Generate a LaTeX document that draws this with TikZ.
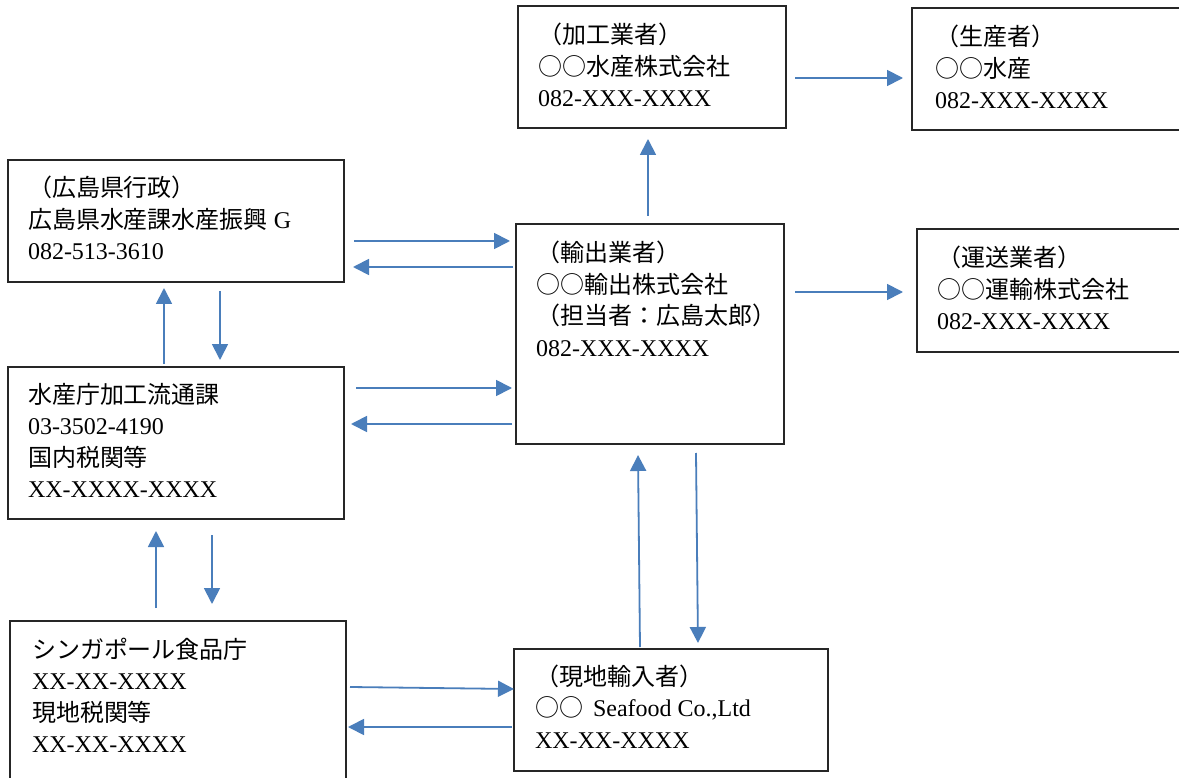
\documentclass[tikz,border=0pt]{standalone}
\usepackage{fontspec}
\setmainfont{Liberation Serif}
\newfontfamily\jp{Noto Sans CJK JP}
\usetikzlibrary{arrows.meta}
\definecolor{arrowblue}{RGB}{74,126,187}
\newcommand{\J}[1]{{\jp #1}}
\newcommand{\boxtext}[1]{\parbox[t]{330pt}{\fontsize{24}{31.5}\selectfont #1}}
\tikzset{
  boxnode/.style={draw=black!85, line width=1.3pt, inner sep=0pt, outer sep=0pt, anchor=north west},
  txt/.style={anchor=base west, inner sep=0pt, outer sep=0pt},
  arr/.style={draw=arrowblue, line width=1.8pt, -{Triangle[length=16pt,width=16pt]}}
}
\begin{document}
\begin{tikzpicture}[x=1pt,y=-1pt]
\useasboundingbox (0,0) rectangle (1179,778);
\clip (0,0) rectangle (1179,778);
\fill[white] (0,0) rectangle (1179,778);
% boxes
\node[boxnode, minimum width=268pt, minimum height=122pt] (proc) at (518,6) {};
\node[boxnode, minimum width=275pt, minimum height=122pt] (prod) at (912,8) {};
\node[boxnode, minimum width=336pt, minimum height=122pt] (pref) at (8,160) {};
\node[boxnode, minimum width=268pt, minimum height=220pt] (exp) at (516,224) {};
\node[boxnode, minimum width=270pt, minimum height=123pt] (trans) at (917,229) {};
\node[boxnode, minimum width=336pt, minimum height=152pt] (fa) at (8,367) {};
\node[boxnode, minimum width=336pt, minimum height=180pt] (sfa) at (10,621) {};
\node[boxnode, minimum width=314pt, minimum height=122pt] (imp) at (514,649) {};
% texts
\node[txt] (proct) at ([shift={(20,38)}]proc.north west) {\boxtext{\J{（加工業者）}\\\J{○○水産株式会社}\\082-XXX-XXXX}};
\node[txt] (prodt) at ([shift={(23,38)}]prod.north west) {\boxtext{\J{（生産者）}\\\J{○○水産}\\082-XXX-XXXX}};
\node[txt] (preft) at ([shift={(20,37)}]pref.north west) {\boxtext{\J{（広島県行政）}\\\J{広島県水産課水産振興} G\\082-513-3610}};
\node[txt] (expt) at ([shift={(20,38)}]exp.north west) {\boxtext{\J{（輸出業者）}\\\J{○○輸出株式会社}\\\J{（担当者：広島太郎）}\\082-XXX-XXXX}};
\node[txt] (transt) at ([shift={(20,38)}]trans.north west) {\boxtext{\J{（運送業者）}\\\J{○○運輸株式会社}\\082-XXX-XXXX}};
\node[txt] (fat) at ([shift={(20,36)}]fa.north west) {\boxtext{\J{水産庁加工流通課}\\03-3502-4190\\\J{国内税関等}\\XX-XXXX-XXXX}};
\node[txt] (sfat) at ([shift={(22,37)}]sfa.north west) {\boxtext{\J{シンガポール食品庁}\\XX-XX-XXXX\\\J{現地税関等}\\XX-XX-XXXX}};
\node[txt] (impt) at ([shift={(21,36)}]imp.north west) {\boxtext{\J{（現地輸入者）}\\\J{○○}\hspace{10pt}Seafood Co.,Ltd\\XX-XX-XXXX}};
% arrows
\draw[arr] ([shift={(132,-8)}]exp.north west) -- ([shift={(130,11)}]proc.south west);
\draw[arr] ([shift={(9,72)}]proc.north east) -- ([shift={(-9,70)}]prod.north west);
\draw[arr] ([shift={(11,68)}]exp.north east) -- ([shift={(-14,63)}]trans.north west);
\draw[arr] ([shift={(10,81)}]pref.north east) -- ([shift={(-6,17)}]exp.north west);
\draw[arr] ([shift={(-3,43)}]exp.north west) -- ([shift={(9,107)}]pref.north east);
\draw[arr] ([shift={(156,-3)}]fa.north west) -- ([shift={(156,6)}]pref.south west);
\draw[arr] ([shift={(212,9)}]pref.south west) -- ([shift={(212,-7)}]fa.north west);
\draw[arr] ([shift={(12,21)}]fa.north east) -- ([shift={(-4,164)}]exp.north west);
\draw[arr] ([shift={(-4,200)}]exp.north west) -- ([shift={(7,57)}]fa.north east);
\draw[arr] ([shift={(146,-13)}]sfa.north west) -- ([shift={(148,12)}]fa.south west);
\draw[arr] ([shift={(204,16)}]fa.south west) -- ([shift={(202,-17)}]sfa.north west);
\draw[arr] ([shift={(126,-2)}]imp.north west) -- ([shift={(122,11)}]exp.south west);
\draw[arr] ([shift={(180,9)}]exp.south west) -- ([shift={(184,-6)}]imp.north west);
\draw[arr] ([shift={(4,66)}]sfa.north east) -- ([shift={(0,40)}]imp.north west);
\draw[arr] ([shift={(-2,78)}]imp.north west) -- ([shift={(2,106)}]sfa.north east);
\end{tikzpicture}
\end{document}
